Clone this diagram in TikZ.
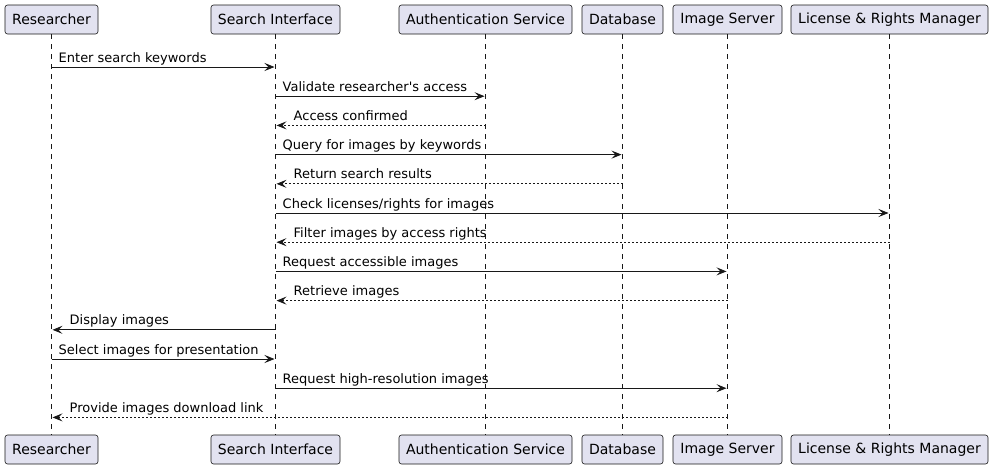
\documentclass[tikz,border=0pt]{standalone}
\usepackage{fontspec}
\setmainfont{DejaVu Sans}[Ligatures=TeXOff]
\usetikzlibrary{arrows.meta}
\definecolor{boxfill}{HTML}{E2E2F0}
\definecolor{ink}{HTML}{181818}
\begin{document}
\begin{tikzpicture}[x=1pt,y=-1pt,
  part/.style={draw=ink,line width=0.6pt,fill=boxfill,rounded corners=2.5pt,
    minimum height=29pt,inner sep=0pt,font=\fontsize{14pt}{16pt}\selectfont,text=black},
  life/.style={draw=ink,line width=0.5pt,dash pattern=on 5pt off 5pt},
  msg/.style={draw=ink,line width=0.9pt,-{Stealth[length=10pt,width=8pt,inset=4pt]}},
  ret/.style={msg,dash pattern=on 2pt off 2pt},
  lbl/.style={anchor=base west,inner sep=0pt,font=\fontsize{13pt}{15pt}\selectfont,text=black}]
\useasboundingbox (0,0) rectangle (993,469);
% participants (top)
\node[part,minimum width=93pt]  (r) at (51.5,19.5) {Researcher};
\node[part,minimum width=129pt] (s) at (275.5,19.5) {Search Interface};
\node[part,minimum width=173pt] (a) at (485.5,19.5) {Authentication Service};
\node[part,minimum width=81pt]  (d) at (622.5,19.5) {Database};
\node[part,minimum width=109pt] (i) at (727.5,19.5) {Image Server};
\node[part,minimum width=197pt] (l) at (889.5,19.5) {License \& Rights Manager};
% participants (bottom)
\node[part,minimum width=93pt]  (rb) at (51.5,449.5) {Researcher};
\node[part,minimum width=129pt] (sb) at (275.5,449.5) {Search Interface};
\node[part,minimum width=173pt] (ab) at (485.5,449.5) {Authentication Service};
\node[part,minimum width=81pt]  (db) at (622.5,449.5) {Database};
\node[part,minimum width=109pt] (ib) at (727.5,449.5) {Image Server};
\node[part,minimum width=197pt] (lb) at (889.5,449.5) {License \& Rights Manager};
% lifelines
\foreach \p in {r,s,a,d,i,l}{
  \draw[life] (\p.south) -- (\p b.north);
}
% messages
\newcommand{\rmsg}[5]{%
  \draw[#5] (#1.south |- 0,#3) -- ([xshift=-1pt]#2.south |- 0,#3);
  \node[lbl] at ([xshift=7pt]#1.south |- 0,#3-5) {#4};}
\newcommand{\lmsg}[5]{%
  \draw[#5] (#1.south |- 0,#3) -- ([xshift=1pt]#2.south |- 0,#3);
  \node[lbl] at ([xshift=18pt]#2.south |- 0,#3-5) {#4};}
\rmsg{r}{s}{67}{Enter search keywords}{msg}
\rmsg{s}{a}{96.2}{Validate researcher's access}{msg}
\lmsg{a}{s}{125.4}{Access confirmed}{ret}
\rmsg{s}{d}{154.6}{Query for images by keywords}{msg}
\lmsg{d}{s}{183.8}{Return search results}{ret}
\rmsg{s}{l}{213}{Check licenses/rights for images}{msg}
\lmsg{l}{s}{242.2}{Filter images by access rights}{ret}
\rmsg{s}{i}{271.4}{Request accessible images}{msg}
\lmsg{i}{s}{300.6}{Retrieve images}{ret}
\lmsg{s}{r}{329.8}{Display images}{msg}
\rmsg{r}{s}{359}{Select images for presentation}{msg}
\rmsg{s}{i}{388.2}{Request high-resolution images}{msg}
\lmsg{i}{r}{417.4}{Provide images download link}{ret}
\end{tikzpicture}
\end{document}
